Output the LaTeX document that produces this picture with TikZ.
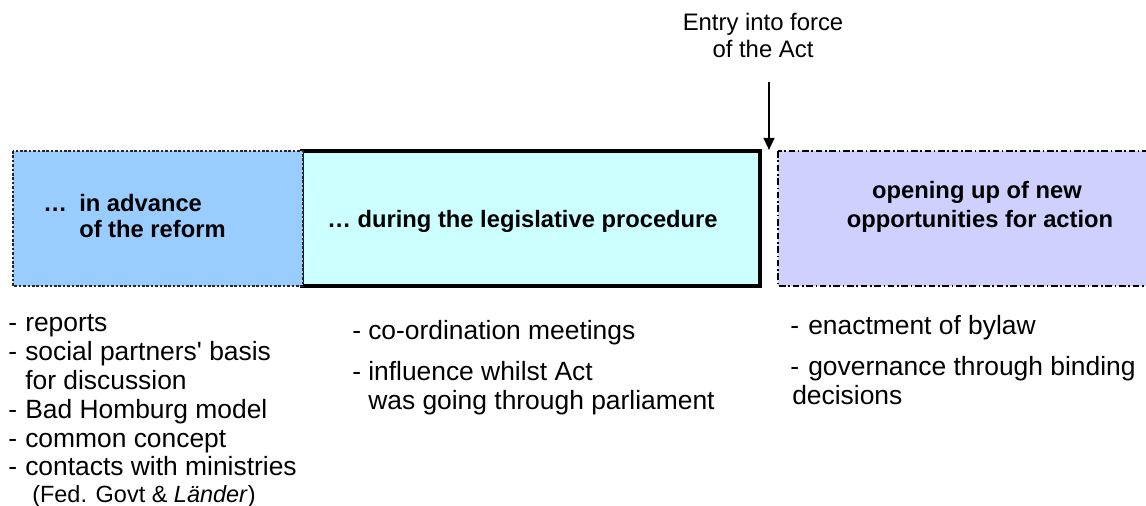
\documentclass[tikz,border=0pt]{standalone}
\usepackage{fontspec}
\setmainfont{Liberation Sans}
\usetikzlibrary{arrows.meta}
\definecolor{advancefill}{RGB}{153,204,255}
\definecolor{procfill}{RGB}{204,255,255}
\definecolor{newfill}{RGB}{208,208,255}
\begin{document}
\begin{tikzpicture}[x=0.75pt,y=-0.75pt,
  listtext/.style={anchor=base west,inner sep=0pt,font=\fontsize{19.8}{21.75}\selectfont},
  smalltext/.style={anchor=base west,inner sep=0pt,font=\fontsize{17.6}{20}\selectfont},
  boxtext/.style={anchor=base,inner sep=0pt,font=\fontsize{17.8}{20}\selectfont\bfseries},
  boxtextl/.style={anchor=base west,inner sep=0pt,font=\fontsize{17.8}{20}\selectfont\bfseries},
  notetext/.style={anchor=base,inner sep=0pt,font=\fontsize{17.9}{20}\selectfont},
  phase/.style={minimum width=0pt,inner sep=0pt}]
\useasboundingbox (0,0) rectangle (1146,506);
\clip (0,0) rectangle (1146,506);

% phase boxes
\path[fill=procfill,draw=black,line width=2.4pt] (302,151) rectangle (760,286);
\node[phase] (proc) at (531,218.5) {};
\path[fill=advancefill,draw=black!85,line width=1.6pt,dash pattern=on 2pt off 1.3pt] (13,151) rectangle (303,286);
\node[phase] (adv) at (158,218.5) {};
\path[fill=newfill,draw=black,line width=1.2pt,dash pattern=on 5pt off 2pt on 1.2pt off 2pt] (778,151) rectangle (1182,286);
\node[phase] (new) at (980,218.5) {};

% box captions
\node[boxtextl] (advdots) at (43,211) {\dots};
\node[boxtextl] (adv1) at (79,211) {in advance};
\node[boxtextl] (adv2) at (79,238) {of the reform};
\node[boxtextl] (proc1) at (327,228) {\dots\ during the legislative procedure};
\node[boxtext] (new1) at (977,199) {opening up of new};
\node[boxtext] (new2) at (980,228) {opportunities for action};

% entry into force marker
\node[notetext] (entry1) at (763,31) {Entry into force};
\node[notetext] (entry2) at (763,58) {of the Act};
\coordinate (arrtop) at (769,82);
\coordinate (arrtip) at (769,150);
\draw[line width=1.6pt,-{Triangle[length=9pt,width=8pt]}] (arrtop) -- (arrtip);

% activities before the reform
\node[listtext] (l1d) at (8,331) {-};
\node[listtext] (l1) at (25,331) {reports};
\node[listtext] (l2d) at (8,360) {-};
\node[listtext] (l2) at (25,360) {social partners\textquotesingle\ basis};
\node[listtext] (l2b) at (25,389) {for discussion};
\node[listtext] (l3d) at (8,418) {-};
\node[listtext] (l3) at (25,418) {Bad Homburg model};
\node[listtext] (l4d) at (8,447) {-};
\node[listtext] (l4) at (25,447) {common concept};
\node[listtext] (l5d) at (8,475) {-};
\node[listtext] (l5) at (25,475) {contacts with ministries};
\node[smalltext] (l5b) at (32,502) {(Fed. Govt \& \textit{Länder})};

% activities during the procedure
\node[listtext] (m1d) at (352,339) {-};
\node[listtext] (m1) at (368,339) {co-ordination meetings};
\node[listtext] (m2d) at (352,380) {-};
\node[listtext] (m2) at (368,380) {influence whilst Act};
\node[listtext] (m2b) at (368,409) {was going through parliament};

% new opportunities
\node[listtext] (r1d) at (790,334) {-};
\node[listtext] (r1) at (808,334) {enactment of bylaw};
\node[listtext] (r2d) at (790,375) {-};
\node[listtext] (r2) at (808,375) {governance through binding};
\node[listtext] (r2b) at (792,404) {decisions};
\end{tikzpicture}
\end{document}
